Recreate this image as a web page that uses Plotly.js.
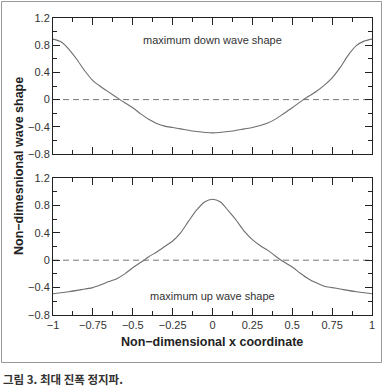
<!DOCTYPE html>
<html>
<head>
<meta charset="utf-8">
<script src="https://cdn.plot.ly/plotly-3.0.1.min.js"></script>
<style>html,body{margin:0;padding:0;background:#fff;}#chart{width:383px;height:387px;}</style>
</head>
<body>
<div id="chart"></div>
<script>
// Top panel: maximum down wave shape
const downX = [-1, -0.95, -0.9, -0.85, -0.8, -0.75, -0.7, -0.65, -0.58, -0.5, -0.45, -0.4, -0.35, -0.3, -0.25, -0.2, -0.1, 0, 0.1, 0.2, 0.25, 0.3, 0.35, 0.4, 0.45, 0.5, 0.57, 0.65, 0.7, 0.75, 0.8, 0.85, 0.9, 0.95, 1];
const downY = [0.89, 0.85, 0.74, 0.59, 0.42, 0.28, 0.19, 0.11, 0, -0.12, -0.21, -0.29, -0.35, -0.39, -0.41, -0.43, -0.47, -0.49, -0.47, -0.43, -0.41, -0.38, -0.34, -0.28, -0.20, -0.12, 0, 0.12, 0.21, 0.32, 0.47, 0.65, 0.79, 0.86, 0.89];
// Bottom panel: maximum up wave shape
const upX = [-1, -0.9, -0.8, -0.75, -0.7, -0.65, -0.6, -0.55, -0.5, -0.43, -0.4, -0.35, -0.3, -0.25, -0.2, -0.15, -0.1, -0.05, 0, 0.05, 0.1, 0.15, 0.2, 0.25, 0.3, 0.35, 0.4, 0.43, 0.5, 0.55, 0.6, 0.65, 0.7, 0.75, 0.8, 0.9, 1];
const upY = [-0.49, -0.46, -0.42, -0.40, -0.36, -0.31, -0.27, -0.20, -0.11, 0, 0.05, 0.12, 0.20, 0.28, 0.40, 0.57, 0.73, 0.85, 0.89, 0.85, 0.72, 0.58, 0.42, 0.30, 0.21, 0.14, 0.05, 0, -0.10, -0.19, -0.27, -0.33, -0.38, -0.40, -0.42, -0.46, -0.49];
const zeroX = [-1, 1];
const zeroY = [0, 0];
const xTickVals = [-1, -0.75, -0.5, -0.25, 0, 0.25, 0.5, 0.75, 1];
const yTickVals = [-0.8, -0.4, 0, 0.4, 0.8, 1.2];

const W = 383, H = 387;
const px = v => v / W, py = v => 1 - v / H;
const tickFont = {family: 'Liberation Sans, Arial, sans-serif', size: 11, color: '#333'};

const curve = {color: '#6e6e6e', width: 1.1, shape: 'spline', smoothing: 0.7};
const dashLine = {color: '#777', width: 1, dash: '6px,4px'};

const traces = [
  {x: zeroX, y: zeroY, xaxis: 'x', yaxis: 'y', mode: 'lines', line: dashLine, hoverinfo: 'skip'},
  {x: downX, y: downY, xaxis: 'x', yaxis: 'y', mode: 'lines', line: curve},
  {x: zeroX, y: zeroY, xaxis: 'x2', yaxis: 'y2', mode: 'lines', line: dashLine, hoverinfo: 'skip'},
  {x: upX, y: upY, xaxis: 'x2', yaxis: 'y2', mode: 'lines', line: curve}
];

const xBase = {
  range: [-1, 1], domain: [px(53), px(372)],
  showgrid: false, zeroline: false,
  showline: true, linecolor: '#222', linewidth: 1, mirror: 'ticks',
  ticks: 'inside', ticklen: 7, tickcolor: '#222', tickwidth: 1,
  tickvals: xTickVals,
  minor: {dtick: 0.125, tick0: 0, ticks: 'inside', ticklen: 4, tickcolor: '#222', showgrid: false},
  tickfont: tickFont, fixedrange: true
};
const yBase = {
  range: [-0.8, 1.2],
  showgrid: false, zeroline: false,
  showline: true, linecolor: '#222', linewidth: 1, mirror: 'ticks',
  ticks: 'inside', ticklen: 7, tickcolor: '#222', tickwidth: 1,
  tickvals: yTickVals,
  minor: {dtick: 0.2, tick0: 0, ticks: 'inside', ticklen: 4, tickcolor: '#222', showgrid: false},
  tickfont: tickFont, fixedrange: true
};

const layout = {
  width: W, height: H,
  margin: {l: 0, r: 0, t: 0, b: 0},
  paper_bgcolor: '#fff', plot_bgcolor: '#fff',
  showlegend: false,
  xaxis: Object.assign({}, xBase, {anchor: 'y', showticklabels: false}),
  yaxis: Object.assign({}, yBase, {anchor: 'x', domain: [py(154), py(18)]}),
  xaxis2: Object.assign({}, xBase, {anchor: 'y2'}),
  yaxis2: Object.assign({}, yBase, {anchor: 'x2', domain: [py(315), py(178)]}),
  shapes: [
    {type: 'rect', xref: 'paper', yref: 'paper', x0: px(1.5), x1: px(381.5), y0: py(362.5), y1: py(1.5),
     line: {color: '#999', width: 1}, fillcolor: 'rgba(0,0,0,0)'}
  ],
  annotations: [
    {text: 'maximum down wave shape', xref: 'paper', yref: 'paper', x: px(212), y: py(40), showarrow: false,
     xanchor: 'center', yanchor: 'middle', font: {family: 'Liberation Sans, Arial, sans-serif', size: 11, color: '#333'}},
    {text: 'maximum up wave shape', xref: 'paper', yref: 'paper', x: px(212), y: py(296), showarrow: false,
     xanchor: 'center', yanchor: 'middle', font: {family: 'Liberation Sans, Arial, sans-serif', size: 11, color: '#333'}},
    {text: '<b>Non\u2212dimesnional wave shape</b>', xref: 'paper', yref: 'paper', x: px(19), y: py(166), showarrow: false,
     textangle: -90, xanchor: 'center', yanchor: 'middle', font: {family: 'Liberation Sans, Arial, sans-serif', size: 12.5, color: '#222'}},
    {text: '<b>Non\u2212dimensional x coordinate</b>', xref: 'paper', yref: 'paper', x: px(212), y: py(342), showarrow: false,
     xanchor: 'center', yanchor: 'middle', font: {family: 'Liberation Sans, Arial, sans-serif', size: 12.5, color: '#222'}},
    {text: '<b>그림 3. 최대 진폭 정지파.</b>', xref: 'paper', yref: 'paper', x: px(1), y: py(378.5), showarrow: false,
     xanchor: 'left', yanchor: 'middle', font: {family: 'Noto Sans CJK KR, sans-serif', size: 11.5, color: '#333'}}
  ]
};

Plotly.newPlot('chart', traces, layout, {displayModeBar: false, staticPlot: true});
</script>
</body>
</html>
